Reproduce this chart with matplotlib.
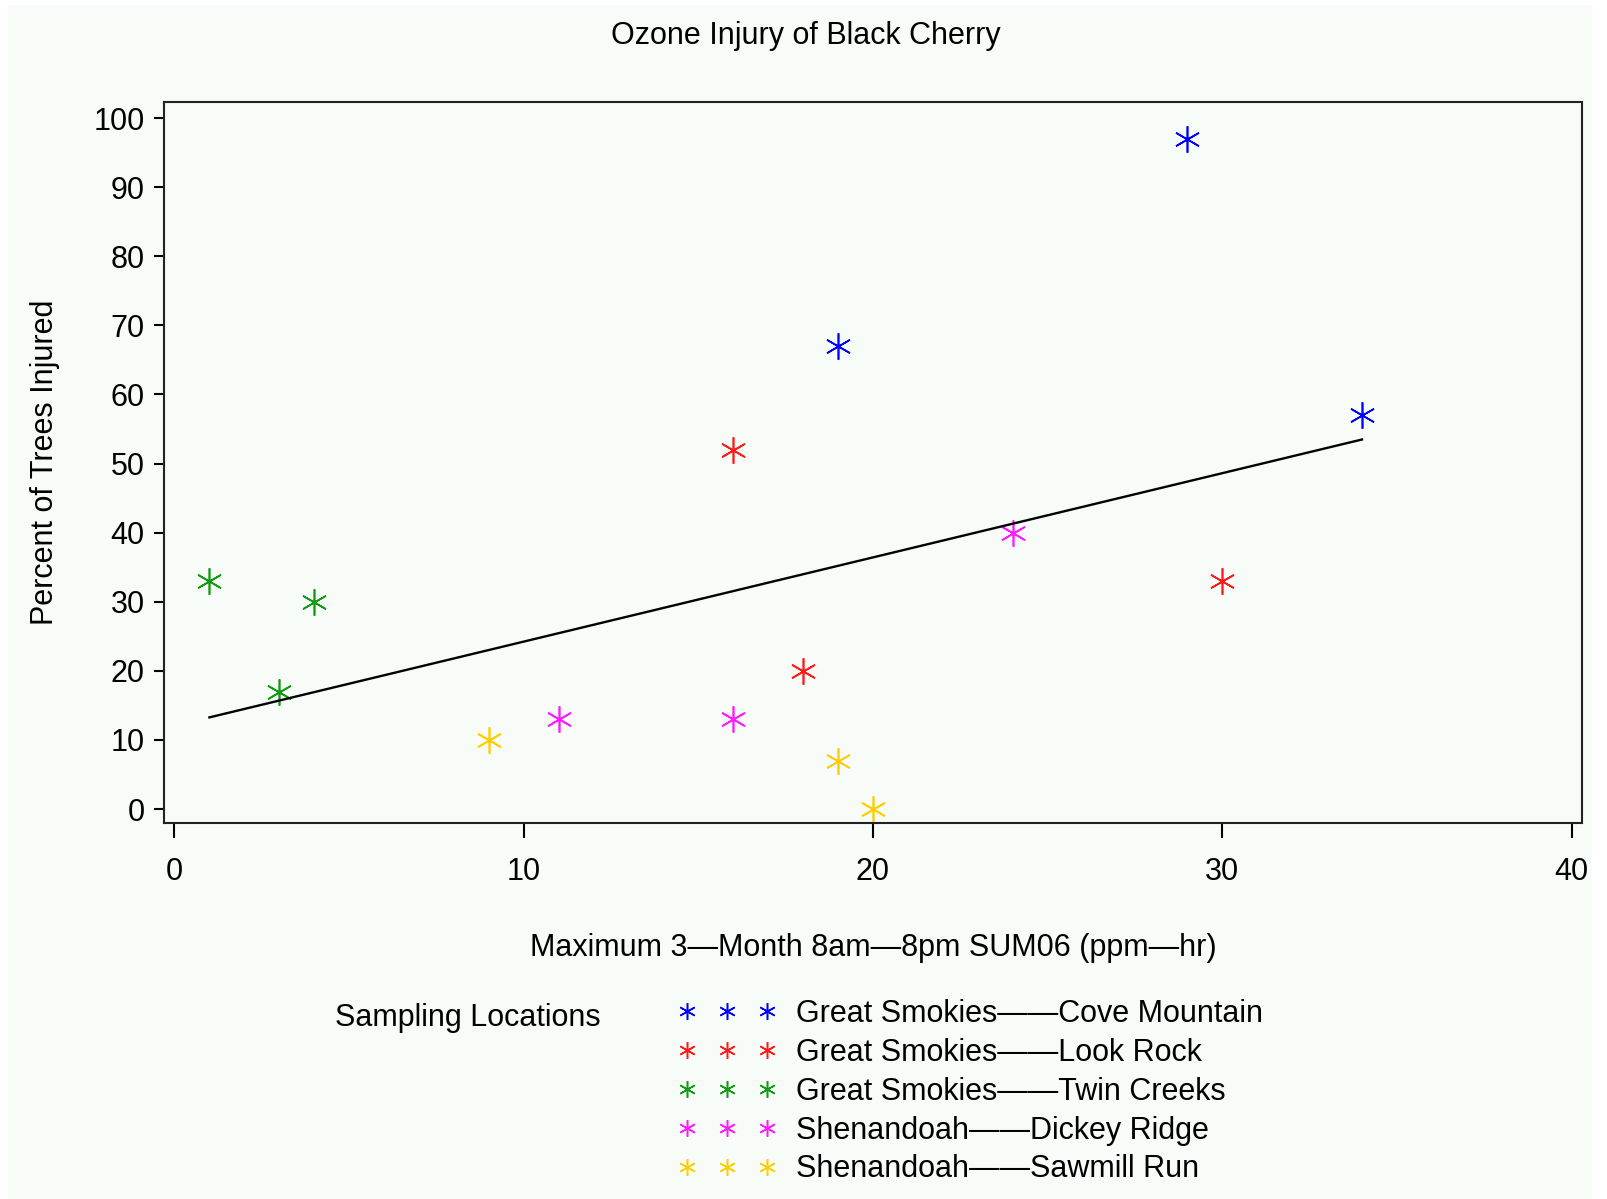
import numpy as np
import matplotlib
matplotlib.use('Agg')
from matplotlib import pyplot as plt
from matplotlib.lines import Line2D
from matplotlib.patches import Rectangle

plt.rcParams['font.family'] = ['Liberation Sans', 'DejaVu Sans']

# sampling sites and their measurements
sites = ['Great Smokies\u2014\u2014Cove Mountain',
         'Great Smokies\u2014\u2014Look Rock',
         'Great Smokies\u2014\u2014Twin Creeks',
         'Shenandoah\u2014\u2014Dickey Ridge',
         'Shenandoah\u2014\u2014Sawmill Run']
site_colors = ['#0000ff', '#ff1a1a', '#129a12', '#ff1aff', '#ffcc00']

sum06 = [[29, 19, 34],
         [16, 30, 18],
         [1, 4, 3],
         [24, 11, 16],
         [9, 19, 20]]
injured = [[97, 67, 57],
           [52, 33, 20],
           [33, 30, 17],
           [40, 13, 13],
           [10, 7, 0]]

xticks = [0, 10, 20, 30, 40]
yticks = list(range(0, 101, 10))

bg = '#f7fcf9'
W, H = 1608, 1199
fig = plt.figure(figsize=(W / 100, H / 100), dpi=100, facecolor='white')
fig.patches.append(Rectangle((8 / W, 0), (1592 - 8) / W, 1 - 5 / H,
                             transform=fig.transFigure, facecolor=bg,
                             edgecolor='none', zorder=-10))

ax = fig.add_axes([164 / W, 1 - 822.5 / H, (1582 - 164) / W, 721 / H])
ax.set_facecolor(bg)

star = (6, 2, 0)
for xs, ys, c in zip(sum06, injured, site_colors):
    ax.plot(xs, ys, ls='none', marker=star, ms=19, mew=1.2, color=c)
    ax.plot(xs, ys, ls='none', marker='o', ms=2.5, mew=0, color=c)

# least squares line over all sites
allx = np.concatenate([np.array(v, float) for v in sum06])
ally = np.concatenate([np.array(v, float) for v in injured])
slope, icpt = np.polyfit(allx, ally, 1)
fx = np.array([allx.min(), allx.max()])
ax.plot(fx, icpt + slope * fx, color='black', lw=1.7)

ax.set_xlim(-0.3, 40.3)
ax.set_ylim(-1.95, 102.4)
ax.set_xticks(xticks)
ax.set_yticks(yticks)
for s in ax.spines.values():
    s.set_linewidth(1.5)
    s.set_color('#222222')
ax.tick_params(axis='x', length=11, width=1.5, pad=14, labelsize=22)
ax.tick_params(axis='y', length=7, width=1.5, pad=7, labelsize=22)

ax.set_xlabel('Maximum 3\u2014Month 8am\u20148pm SUM06 (ppm\u2014hr)',
              fontsize=22, va='center')
ax.xaxis.set_label_coords(0.5, (822.5 - 948) / 721)
ax.set_ylabel('Percent of Trees Injured', fontsize=22, va='center')
ax.yaxis.set_label_coords((45 - 164) / 1418, 0.5)

fig.text(806 / W, 1 - 36 / H, 'Ozone Injury of Black Cherry',
         fontsize=22, ha='center', va='center')

fig.text(335 / W, 1 - 1018 / H, 'Sampling Locations',
         fontsize=22, ha='left', va='center')

handles = [Line2D([], [], ls='none', marker=star, ms=12, mew=1.1, color=c)
           for c in site_colors]
fig.legend(handles, sites, numpoints=3, loc='upper left',
           bbox_to_anchor=(678 / W, 1 - 999 / H), frameon=False,
           fontsize=22, handlelength=3.22, handletextpad=0.63,
           labelspacing=0.29, borderpad=0, borderaxespad=0)

fig.savefig('out.png', dpi=100, facecolor='white')
